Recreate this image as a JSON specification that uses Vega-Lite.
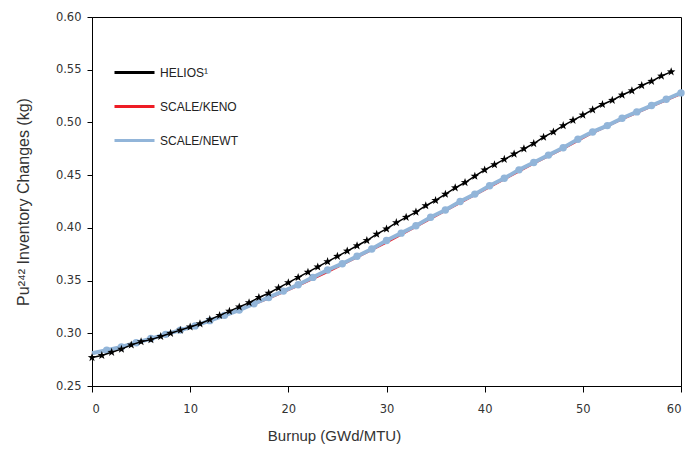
{
  "$schema": "https://vega.github.io/schema/vega-lite/v6.json",
  "width": 589,
  "height": 369,
  "autosize": {"type": "none"},
  "padding": {"left": 92, "top": 17, "right": 5, "bottom": 67},
  "background": "white",
  "config": {
    "view": {"stroke": "#000", "strokeWidth": 1},
    "axis": {
      "grid": false,
      "domainColor": "#000",
      "tickColor": "#000",
      "labelFont": "DejaVu Sans",
      "labelFontSize": 11.5,
      "labelColor": "#333",
      "titleFont": "Liberation Sans",
      "titleFontSize": 15,
      "titleFontWeight": "normal",
      "titleColor": "#333"
    }
  },
  "datasets": {
    "helios": [
      {"series": "HELIOS¹", "burnup": 0, "pu": 0.277},
      {"series": "HELIOS¹", "burnup": 1, "pu": 0.279},
      {"series": "HELIOS¹", "burnup": 2, "pu": 0.282},
      {"series": "HELIOS¹", "burnup": 3, "pu": 0.285},
      {"series": "HELIOS¹", "burnup": 4, "pu": 0.289},
      {"series": "HELIOS¹", "burnup": 5, "pu": 0.292},
      {"series": "HELIOS¹", "burnup": 6, "pu": 0.294},
      {"series": "HELIOS¹", "burnup": 7, "pu": 0.297},
      {"series": "HELIOS¹", "burnup": 8, "pu": 0.300},
      {"series": "HELIOS¹", "burnup": 9, "pu": 0.303},
      {"series": "HELIOS¹", "burnup": 10, "pu": 0.306},
      {"series": "HELIOS¹", "burnup": 11, "pu": 0.309},
      {"series": "HELIOS¹", "burnup": 12, "pu": 0.313},
      {"series": "HELIOS¹", "burnup": 13, "pu": 0.317},
      {"series": "HELIOS¹", "burnup": 14, "pu": 0.321},
      {"series": "HELIOS¹", "burnup": 15, "pu": 0.325},
      {"series": "HELIOS¹", "burnup": 16, "pu": 0.329},
      {"series": "HELIOS¹", "burnup": 17, "pu": 0.334},
      {"series": "HELIOS¹", "burnup": 18, "pu": 0.338},
      {"series": "HELIOS¹", "burnup": 19, "pu": 0.343},
      {"series": "HELIOS¹", "burnup": 20, "pu": 0.348},
      {"series": "HELIOS¹", "burnup": 21, "pu": 0.353},
      {"series": "HELIOS¹", "burnup": 22, "pu": 0.358},
      {"series": "HELIOS¹", "burnup": 23, "pu": 0.363},
      {"series": "HELIOS¹", "burnup": 24, "pu": 0.368},
      {"series": "HELIOS¹", "burnup": 25, "pu": 0.373},
      {"series": "HELIOS¹", "burnup": 26, "pu": 0.378},
      {"series": "HELIOS¹", "burnup": 27, "pu": 0.383},
      {"series": "HELIOS¹", "burnup": 28, "pu": 0.388},
      {"series": "HELIOS¹", "burnup": 29, "pu": 0.394},
      {"series": "HELIOS¹", "burnup": 30, "pu": 0.399},
      {"series": "HELIOS¹", "burnup": 31, "pu": 0.405},
      {"series": "HELIOS¹", "burnup": 32, "pu": 0.410},
      {"series": "HELIOS¹", "burnup": 33, "pu": 0.415},
      {"series": "HELIOS¹", "burnup": 34, "pu": 0.421},
      {"series": "HELIOS¹", "burnup": 35, "pu": 0.426},
      {"series": "HELIOS¹", "burnup": 36, "pu": 0.432},
      {"series": "HELIOS¹", "burnup": 37, "pu": 0.438},
      {"series": "HELIOS¹", "burnup": 38, "pu": 0.443},
      {"series": "HELIOS¹", "burnup": 39, "pu": 0.449},
      {"series": "HELIOS¹", "burnup": 40, "pu": 0.455},
      {"series": "HELIOS¹", "burnup": 41, "pu": 0.460},
      {"series": "HELIOS¹", "burnup": 42, "pu": 0.465},
      {"series": "HELIOS¹", "burnup": 43, "pu": 0.470},
      {"series": "HELIOS¹", "burnup": 44, "pu": 0.475},
      {"series": "HELIOS¹", "burnup": 45, "pu": 0.480},
      {"series": "HELIOS¹", "burnup": 46, "pu": 0.486},
      {"series": "HELIOS¹", "burnup": 47, "pu": 0.491},
      {"series": "HELIOS¹", "burnup": 48, "pu": 0.497},
      {"series": "HELIOS¹", "burnup": 49, "pu": 0.502},
      {"series": "HELIOS¹", "burnup": 50, "pu": 0.507},
      {"series": "HELIOS¹", "burnup": 51, "pu": 0.512},
      {"series": "HELIOS¹", "burnup": 52, "pu": 0.517},
      {"series": "HELIOS¹", "burnup": 53, "pu": 0.521},
      {"series": "HELIOS¹", "burnup": 54, "pu": 0.526},
      {"series": "HELIOS¹", "burnup": 55, "pu": 0.530},
      {"series": "HELIOS¹", "burnup": 56, "pu": 0.535},
      {"series": "HELIOS¹", "burnup": 57, "pu": 0.539},
      {"series": "HELIOS¹", "burnup": 58, "pu": 0.544},
      {"series": "HELIOS¹", "burnup": 59, "pu": 0.548}
    ],
    "keno": [
      {"series": "SCALE/KENO", "burnup": 0, "pu": 0.281},
      {"series": "SCALE/KENO", "burnup": 3, "pu": 0.287},
      {"series": "SCALE/KENO", "burnup": 6, "pu": 0.295},
      {"series": "SCALE/KENO", "burnup": 9, "pu": 0.303},
      {"series": "SCALE/KENO", "burnup": 12, "pu": 0.312},
      {"series": "SCALE/KENO", "burnup": 15, "pu": 0.322},
      {"series": "SCALE/KENO", "burnup": 18, "pu": 0.333},
      {"series": "SCALE/KENO", "burnup": 21, "pu": 0.345},
      {"series": "SCALE/KENO", "burnup": 24, "pu": 0.358},
      {"series": "SCALE/KENO", "burnup": 27, "pu": 0.372},
      {"series": "SCALE/KENO", "burnup": 30, "pu": 0.386},
      {"series": "SCALE/KENO", "burnup": 33, "pu": 0.401},
      {"series": "SCALE/KENO", "burnup": 36, "pu": 0.416},
      {"series": "SCALE/KENO", "burnup": 39, "pu": 0.431},
      {"series": "SCALE/KENO", "burnup": 42, "pu": 0.446},
      {"series": "SCALE/KENO", "burnup": 45, "pu": 0.461},
      {"series": "SCALE/KENO", "burnup": 48, "pu": 0.475},
      {"series": "SCALE/KENO", "burnup": 51, "pu": 0.490},
      {"series": "SCALE/KENO", "burnup": 54, "pu": 0.503},
      {"series": "SCALE/KENO", "burnup": 57, "pu": 0.515},
      {"series": "SCALE/KENO", "burnup": 60, "pu": 0.527}
    ],
    "newt": [
      {"series": "SCALE/NEWT", "burnup": 0, "pu": 0.281},
      {"series": "SCALE/NEWT", "burnup": 1.5, "pu": 0.284},
      {"series": "SCALE/NEWT", "burnup": 3, "pu": 0.287},
      {"series": "SCALE/NEWT", "burnup": 4.5, "pu": 0.291},
      {"series": "SCALE/NEWT", "burnup": 6, "pu": 0.295},
      {"series": "SCALE/NEWT", "burnup": 7.5, "pu": 0.299},
      {"series": "SCALE/NEWT", "burnup": 9, "pu": 0.303},
      {"series": "SCALE/NEWT", "burnup": 10.5, "pu": 0.307},
      {"series": "SCALE/NEWT", "burnup": 12, "pu": 0.312},
      {"series": "SCALE/NEWT", "burnup": 13.5, "pu": 0.317},
      {"series": "SCALE/NEWT", "burnup": 15, "pu": 0.322},
      {"series": "SCALE/NEWT", "burnup": 16.5, "pu": 0.328},
      {"series": "SCALE/NEWT", "burnup": 18, "pu": 0.334},
      {"series": "SCALE/NEWT", "burnup": 19.5, "pu": 0.340},
      {"series": "SCALE/NEWT", "burnup": 21, "pu": 0.346},
      {"series": "SCALE/NEWT", "burnup": 22.5, "pu": 0.353},
      {"series": "SCALE/NEWT", "burnup": 24, "pu": 0.360},
      {"series": "SCALE/NEWT", "burnup": 25.5, "pu": 0.366},
      {"series": "SCALE/NEWT", "burnup": 27, "pu": 0.373},
      {"series": "SCALE/NEWT", "burnup": 28.5, "pu": 0.380},
      {"series": "SCALE/NEWT", "burnup": 30, "pu": 0.388},
      {"series": "SCALE/NEWT", "burnup": 31.5, "pu": 0.395},
      {"series": "SCALE/NEWT", "burnup": 33, "pu": 0.402},
      {"series": "SCALE/NEWT", "burnup": 34.5, "pu": 0.410},
      {"series": "SCALE/NEWT", "burnup": 36, "pu": 0.417},
      {"series": "SCALE/NEWT", "burnup": 37.5, "pu": 0.425},
      {"series": "SCALE/NEWT", "burnup": 39, "pu": 0.432},
      {"series": "SCALE/NEWT", "burnup": 40.5, "pu": 0.440},
      {"series": "SCALE/NEWT", "burnup": 42, "pu": 0.447},
      {"series": "SCALE/NEWT", "burnup": 43.5, "pu": 0.455},
      {"series": "SCALE/NEWT", "burnup": 45, "pu": 0.462},
      {"series": "SCALE/NEWT", "burnup": 46.5, "pu": 0.469},
      {"series": "SCALE/NEWT", "burnup": 48, "pu": 0.476},
      {"series": "SCALE/NEWT", "burnup": 49.5, "pu": 0.484},
      {"series": "SCALE/NEWT", "burnup": 51, "pu": 0.491},
      {"series": "SCALE/NEWT", "burnup": 52.5, "pu": 0.497},
      {"series": "SCALE/NEWT", "burnup": 54, "pu": 0.504},
      {"series": "SCALE/NEWT", "burnup": 55.5, "pu": 0.510},
      {"series": "SCALE/NEWT", "burnup": 57, "pu": 0.516},
      {"series": "SCALE/NEWT", "burnup": 58.5, "pu": 0.522},
      {"series": "SCALE/NEWT", "burnup": 60, "pu": 0.528}
    ]
  },
  "encoding": {
    "x": {
      "field": "burnup", "type": "quantitative",
      "scale": {"domain": [0, 60], "nice": false},
      "axis": {
        "values": [0, 10, 20, 30, 40, 50, 60],
        "title": "Burnup (GWd/MTU)",
        "tickSize": 6, "labelPadding": 11,
        "titleX": 242, "titleAlign": "center",
        "titlePadding": 14
      }
    },
    "y": {
      "field": "pu", "type": "quantitative",
      "scale": {"domain": [0.25, 0.60], "nice": false, "zero": false},
      "axis": {
        "values": [0.25, 0.30, 0.35, 0.40, 0.45, 0.50, 0.55, 0.60],
        "format": ".2f",
        "title": "Pu²⁴² Inventory Changes (kg)",
        "titleFontSize": 16,
        "tickSize": 5, "labelPadding": 6, "titlePadding": 24
      }
    },
    "color": {
      "field": "series", "type": "nominal",
      "scale": {"domain": ["HELIOS¹", "SCALE/KENO", "SCALE/NEWT"], "range": ["#000000", "#ee1c25", "#92b5d9"]},
      "legend": null
    }
  },
  "layer": [
    {
      "data": {"name": "keno"},
      "mark": {"type": "line", "strokeWidth": 2},
      "encoding": {
        "color": {
          "field": "series", "type": "nominal",
          "scale": {"domain": ["HELIOS¹", "SCALE/KENO", "SCALE/NEWT"], "range": ["#000000", "#ee1c25", "#92b5d9"]},
          "legend": {
            "orient": "none", "legendX": 21, "legendY": 34, "title": null,
            "padding": 0, "symbolType": "stroke", "symbolSize": 1600, "symbolStrokeWidth": 3,
            "labelOffset": 4, "rowPadding": 6,
            "labelFont": "Liberation Sans", "labelFontSize": 12, "labelColor": "#222"
          }
        }
      }
    },
    {
      "data": {"name": "newt"},
      "mark": {"type": "line", "strokeWidth": 4},
      "encoding": {}
    },
    {
      "data": {"name": "newt"},
      "transform": [{"filter": "datum.burnup > 0"}],
      "mark": {"type": "point", "shape": "circle", "filled": true, "size": 55, "opacity": 1},
      "encoding": {}
    },
    {
      "data": {"name": "helios"},
      "mark": {"type": "line", "strokeWidth": 1.5},
      "encoding": {}
    },
    {
      "data": {"name": "helios"},
      "mark": {"type": "point", "shape": "M0,-1L0.235,-0.324L0.951,-0.309L0.380,0.124L0.588,0.809L0,0.4L-0.588,0.809L-0.380,0.124L-0.951,-0.309L-0.235,-0.324Z", "filled": true, "size": 80, "opacity": 1},
      "encoding": {}
    }
  ]
}
